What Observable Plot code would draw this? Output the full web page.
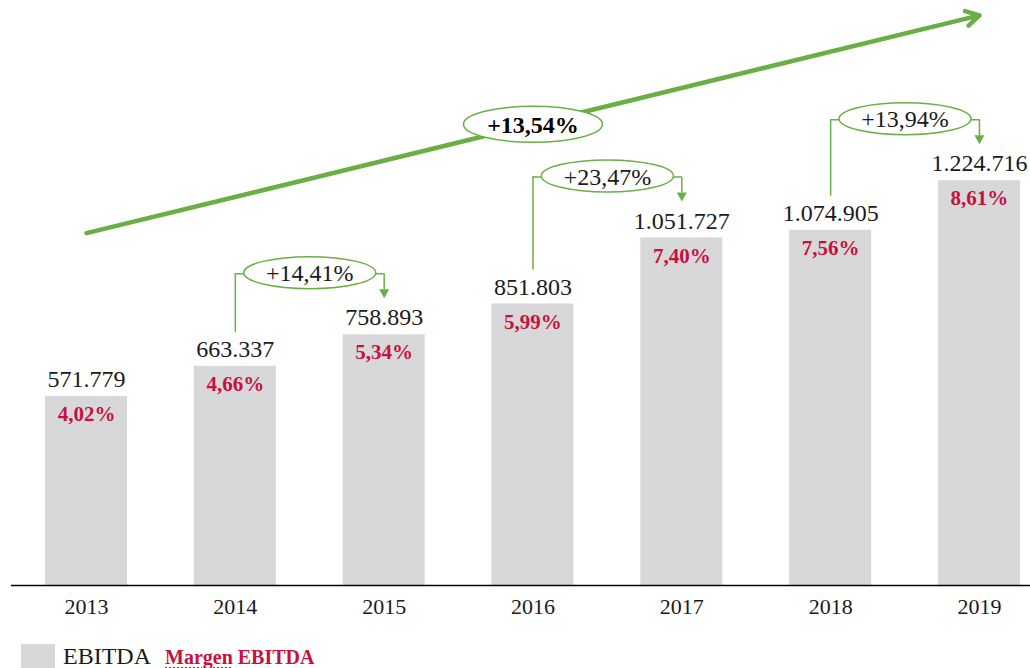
<!DOCTYPE html>
<html>
<head>
<meta charset="utf-8">
<script src="https://cdn.jsdelivr.net/npm/d3@7"></script>
<script src="https://cdn.jsdelivr.net/npm/@observablehq/plot@0.6"></script>
<style>
  html, body { margin: 0; padding: 0; background: #fff; }
  #chart { width: 1030px; }
  #legend { position: relative; width: 1030px; height: 36px; font-family: "Liberation Serif", "Times New Roman", serif; }
  #legend .sw { position: absolute; left: 21px; top: 12px; width: 34px; height: 30px; background: #d8d8da; }
  #legend .l1 { position: absolute; left: 63px; top: 12px; font-size: 24px; line-height: 24px; color: #1a1a1a; }
  #legend .l2 { position: absolute; left: 165px; top: 15px; font-size: 20px; line-height: 20px; font-weight: bold; color: #c8103e; }
  #legend .l2 u { text-decoration: underline dotted #c8103e; text-underline-offset: 3px; }
</style>
</head>
<body>
<div id="chart"></div>
<div id="legend"><span class="sw"></span><span class="l1">EBITDA</span><span class="l2"><u>Margen</u> EBITDA</span></div>
<script>
// ---- data ----
const years = [2013, 2014, 2015, 2016, 2017, 2018, 2019];
const ebitda = [571779, 663337, 758893, 851803, 1051727, 1074905, 1224716];
const margin = [4.02, 4.66, 5.34, 5.99, 7.40, 7.56, 8.61];
const growthFrom = [2014, 2016, 2018];
const growthTo = [2015, 2017, 2019];
const growthPct = [14.41, 23.47, 13.94];
const cagrPct = 13.54;
const trendYears = [2013, 2019];
const trendLevels = [1066000, 1725000];

// ---- derived tables ----
const bars = years.map((y, i) => ({year: y, value: ebitda[i], margin: margin[i]}));
const valueOf = y => ebitda[years.indexOf(y)];
const growth = growthFrom.map((f, i) => ({from: f, to: growthTo[i], pct: growthPct[i]}));
const trend = [{x1: trendYears[0], x2: trendYears[1], y1: trendLevels[0], y2: trendLevels[1]}];
const cagr = [{year: (trendYears[0] + trendYears[1]) / 2, level: (trendLevels[0] + trendLevels[1]) / 2, pct: cagrPct}];

const loc = d3.formatLocale({decimal: ",", thousands: ".", grouping: [3], currency: ["", ""]});
const fmtInt = loc.format(",d");
const fmtPct = loc.format(".2f");

const green = "#6aaf45";
const crimson = "#c8103e";
const gray = "#d8d8da";
const ink = "#1a1a1a";

function ellipseSymbol(rx, ry) {
  const k = 0.5523;
  return {
    draw(ctx) {
      ctx.moveTo(rx, 0);
      ctx.bezierCurveTo(rx, ry * k, rx * k, ry, 0, ry);
      ctx.bezierCurveTo(-rx * k, ry, -rx, ry * k, -rx, 0);
      ctx.bezierCurveTo(-rx, -ry * k, -rx * k, -ry, 0, -ry);
      ctx.bezierCurveTo(rx * k, -ry, rx, -ry * k, rx, 0);
      ctx.closePath();
    }
  };
}
const arrowDown = {
  draw(ctx) {
    ctx.moveTo(-5, -4.5);
    ctx.lineTo(5, -4.5);
    ctx.lineTo(0, 4.5);
    ctx.closePath();
  }
};
const halfBar = 0.2755;

const chart = Plot.plot({
  width: 1030,
  height: 632,
  marginTop: 0,
  marginBottom: 47,
  marginLeft: 0,
  marginRight: 0,
  style: {fontFamily: "'Liberation Serif', 'Times New Roman', serif", background: "white", overflow: "visible"},
  x: {type: "linear", domain: [2012.422, 2019.343], axis: null},
  y: {domain: [0, 1770000], axis: null},
  marks: [
    Plot.rect(bars, {x1: d => d.year - halfBar, x2: d => d.year + halfBar, y1: 0, y2: "value", fill: gray}),
    Plot.ruleY([0], {stroke: "#000", strokeWidth: 1.5, insetLeft: 11}),
    Plot.axisX({ticks: years, tickFormat: "d", tickSize: 0, tickPadding: 13, fontSize: 22, label: null, fill: ink}),
    Plot.text(bars, {x: "year", y: "value", text: d => fmtInt(d.value), dy: -17, fontSize: 24, fill: ink}),
    Plot.text(bars, {x: "year", y: "value", text: d => fmtPct(d.margin) + "%", dy: 18, fontSize: 21, fontWeight: "bold", fill: crimson}),
    // growth brackets
    Plot.ruleX(growth, {x: "from", y1: d => valueOf(d.to), y2: d => valueOf(d.from), insetTop: -61, insetBottom: 34, stroke: green, strokeWidth: 1.5}),
    Plot.ruleY(growth, {y: d => valueOf(d.to), x1: "from", x2: "to", dy: -61, stroke: green, strokeWidth: 1.5}),
    Plot.ruleX(growth, {x: "to", y1: d => valueOf(d.to), y2: d => valueOf(d.to), insetTop: -61, insetBottom: 45, stroke: green, strokeWidth: 1.5}),
    Plot.dot(growth, {x: "to", y: d => valueOf(d.to), dy: -41, symbol: arrowDown, fill: green, stroke: "none"}),
    // overall trend
    Plot.arrow(trend, {x1: "x1", y1: "y1", x2: "x2", y2: "y2", stroke: green, strokeWidth: 4.5, headLength: 5, headAngle: 60}),
    Plot.dot(cagr, {x: "year", y: "level", symbol: ellipseSymbol(69.5, 18), fill: "white", stroke: green, strokeWidth: 1.5}),
    Plot.text(cagr, {x: "year", y: "level", text: d => "+" + fmtPct(d.pct) + "%", fontSize: 24, fontWeight: "bold", fill: "#000", dy: 1}),
    Plot.dot(growth, {x: d => (d.from + d.to) / 2, y: d => valueOf(d.to), dy: -62, symbol: ellipseSymbol(66, 16), fill: "white", stroke: green, strokeWidth: 1.5}),
    Plot.text(growth, {x: d => (d.from + d.to) / 2, y: d => valueOf(d.to), dy: -61, text: d => "+" + fmtPct(d.pct) + "%", fontSize: 24, fill: ink})
  ]
});
document.getElementById("chart").appendChild(chart);
</script>
</body>
</html>
